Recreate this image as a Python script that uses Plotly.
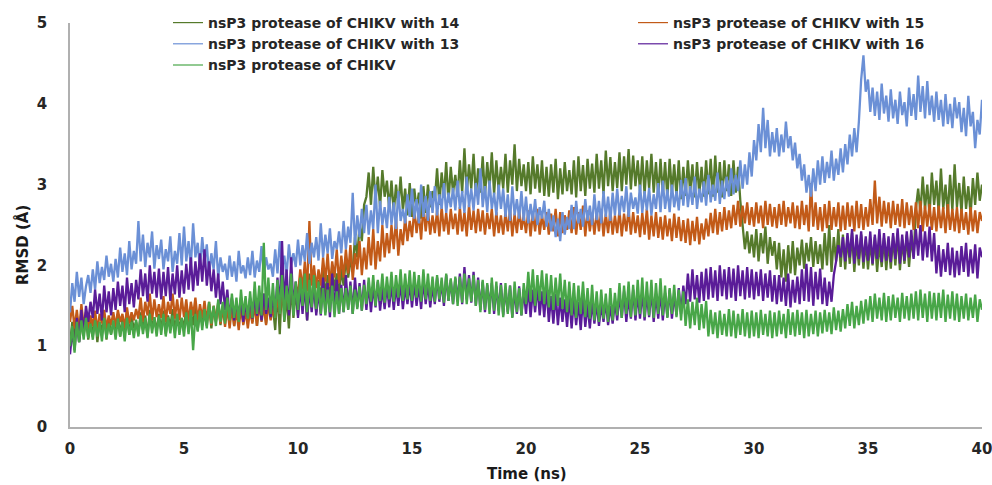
import numpy as np
import plotly.graph_objects as go

# time grid (ns), 0.1 ns sampling
time_ns = np.round(np.arange(401) * 0.1, 1)

names = [
    "nsP3 protease of CHIKV with 14",
    "nsP3 protease of CHIKV with 15",
    "nsP3 protease of CHIKV with 13",
    "nsP3 protease of CHIKV with 16",
    "nsP3 protease of CHIKV",
]

rmsd_13 = [
1.42,1.78,1.55,1.92,1.61,1.85,1.52,1.74,1.88,1.66,
1.95,1.70,2.05,1.78,1.98,1.82,2.12,1.86,2.02,1.80,
2.08,1.85,2.22,1.92,2.15,1.88,2.30,1.95,2.18,2.02,
2.55,2.05,2.38,1.98,2.28,2.10,2.42,1.96,2.25,2.08,
2.32,1.95,2.20,2.05,2.36,1.92,2.18,2.02,2.40,2.00,
2.48,2.05,2.30,1.98,2.52,2.10,2.28,1.96,2.35,2.04,
2.26,1.88,2.15,1.95,2.30,1.85,2.10,1.92,2.02,1.82,
2.12,1.86,2.05,1.80,2.18,1.90,2.00,1.84,2.10,1.88,
2.18,1.85,2.06,1.92,2.24,1.88,2.10,1.95,2.02,1.86,
2.20,1.90,2.30,1.95,2.12,1.88,2.26,2.00,2.15,1.98,
2.32,2.00,2.25,2.05,2.40,2.02,2.28,2.10,2.35,2.06,
2.52,2.10,2.38,2.15,2.46,2.08,2.30,2.20,2.42,2.15,
2.55,2.20,2.48,2.28,2.90,2.25,2.62,2.35,2.70,2.40,
2.75,2.38,2.68,2.45,3.00,2.40,2.80,2.50,2.72,2.46,
2.85,2.50,2.78,2.45,2.92,2.55,2.70,2.52,2.88,2.60,
2.95,2.58,2.82,2.52,3.00,2.60,2.86,2.55,2.92,2.65,
2.98,2.62,2.88,2.70,3.02,2.65,2.90,2.72,2.96,2.68,
3.05,2.70,2.92,2.65,3.10,2.72,2.95,2.68,3.02,2.75,
3.20,2.72,2.98,2.66,3.05,2.70,2.90,2.62,3.00,2.70,
2.95,2.60,2.88,2.55,2.98,2.62,2.82,2.58,2.92,2.55,
2.85,2.52,2.76,2.55,2.82,2.50,2.72,2.58,2.80,2.48,
2.70,2.42,2.62,2.35,2.58,2.30,2.66,2.38,2.60,2.45,
2.75,2.45,2.80,2.52,2.70,2.48,2.82,2.55,2.74,2.50,
2.88,2.56,2.80,2.52,2.92,2.60,2.85,2.55,2.90,2.62,
2.95,2.62,2.86,2.66,2.98,2.60,2.90,2.70,2.84,2.64,
3.00,2.65,2.92,2.68,2.96,2.62,2.88,2.70,3.02,2.66,
3.05,2.70,2.94,2.66,3.00,2.72,2.92,2.68,3.06,2.74,
3.08,2.72,2.98,2.75,3.10,2.70,2.95,2.78,3.04,2.74,
3.12,2.78,3.00,2.80,3.15,2.76,3.05,2.82,3.10,2.85,
3.20,2.88,3.12,2.92,3.30,2.95,3.25,3.00,3.40,3.10,
3.55,3.30,3.75,3.40,3.95,3.45,3.80,3.35,3.65,3.40,
3.70,3.35,3.62,3.40,3.78,3.45,3.60,3.30,3.52,3.20,
3.38,3.05,3.25,2.90,3.12,2.85,3.20,2.92,3.30,3.00,
3.35,3.02,3.28,3.08,3.42,3.05,3.32,3.12,3.45,3.15,
3.50,3.25,3.62,3.35,3.70,3.40,3.78,4.30,4.60,4.15,
4.30,3.90,4.20,3.85,4.15,3.80,4.25,3.88,4.10,3.78,
4.18,3.82,4.05,3.75,4.15,3.86,4.02,3.72,4.20,3.85,
4.12,3.80,4.35,3.90,4.22,3.82,4.28,3.86,4.10,3.78,
4.15,3.80,4.05,3.72,4.12,3.75,4.00,3.70,4.08,3.82,
4.02,3.65,3.95,3.60,4.10,3.72,3.90,3.45,3.80,3.62,
4.05]

rmsd_14 = [
1.02,1.30,1.10,1.38,1.05,1.28,1.15,1.35,1.08,1.32,
1.12,1.38,1.05,1.30,1.18,1.40,1.08,1.34,1.15,1.28,
1.18,1.40,1.12,1.35,1.20,1.42,1.14,1.36,1.22,1.30,
1.15,1.42,1.20,1.38,1.12,1.45,1.22,1.36,1.18,1.40,
1.20,1.44,1.15,1.38,1.24,1.46,1.18,1.40,1.22,1.35,
1.22,1.48,1.18,1.42,1.26,1.50,1.20,1.44,1.28,1.40,
1.25,1.52,1.22,1.48,1.30,1.55,1.26,1.50,1.32,1.46,
1.28,1.58,1.25,1.50,1.35,1.60,1.28,1.55,1.32,1.48,
1.30,1.62,1.25,1.55,1.36,1.65,1.28,1.58,1.34,1.50,
1.20,1.70,1.15,1.80,1.30,1.62,1.22,1.75,1.35,1.68,
1.38,1.85,1.45,1.78,1.32,1.90,1.50,1.75,1.42,1.82,
1.55,1.95,1.62,1.88,1.52,2.00,1.68,1.90,1.60,1.96,
1.75,2.10,1.85,2.05,1.95,2.35,2.10,2.50,2.30,2.75,
2.85,3.15,2.75,3.22,2.80,3.10,2.72,3.18,2.85,3.05,
2.70,3.05,2.65,3.00,2.72,3.10,2.68,2.95,2.62,3.02,
2.60,2.95,2.70,2.90,2.58,2.98,2.65,3.00,2.72,2.92,
2.80,3.20,2.75,3.15,2.85,3.28,2.78,3.22,2.90,3.12,
2.85,3.30,2.90,3.45,2.88,3.25,2.95,3.38,2.86,3.20,
2.90,3.35,2.86,3.28,2.95,3.40,2.88,3.30,2.92,3.22,
2.95,3.38,2.90,3.30,3.00,3.50,2.92,3.32,2.98,3.25,
2.92,3.28,2.88,3.35,2.95,3.25,2.90,3.30,2.86,3.22,
2.85,3.25,2.90,3.32,2.82,3.20,2.88,3.28,2.92,3.18,
2.88,3.30,2.84,3.35,2.92,3.24,2.86,3.32,2.95,3.26,
2.90,3.38,2.95,3.30,2.88,3.42,2.98,3.34,2.92,3.28,
2.96,3.40,2.92,3.35,3.00,3.44,2.94,3.36,2.98,3.30,
2.92,3.35,2.88,3.30,2.95,3.38,2.90,3.28,2.86,3.32,
2.88,3.28,2.84,3.32,2.90,3.25,2.86,3.30,2.82,3.22,
2.86,3.30,2.90,3.25,2.84,3.28,2.88,3.22,2.85,3.30,
2.88,3.32,2.85,3.36,2.90,3.28,2.84,3.30,2.92,3.25,
2.86,3.30,2.90,3.22,2.80,2.45,2.20,2.42,2.15,2.38,
2.10,2.45,2.05,2.40,2.15,2.48,2.02,2.35,2.12,2.30,
1.95,2.28,1.85,2.20,1.80,2.25,1.90,2.30,1.88,2.22,
2.00,2.32,1.96,2.28,2.05,2.35,1.98,2.30,2.02,2.26,
1.95,2.40,2.00,2.50,1.92,2.35,2.05,2.45,1.98,2.38,
1.95,2.35,2.02,2.40,1.92,2.30,2.00,2.38,1.96,2.32,
1.95,2.30,2.00,2.35,1.92,2.28,1.98,2.34,1.94,2.30,
1.96,2.36,2.00,2.40,1.94,2.32,2.02,2.38,1.98,2.34,
2.10,2.70,2.95,2.65,3.10,2.70,3.00,2.62,3.15,2.75,
3.05,2.65,3.20,2.70,3.00,2.62,3.12,2.68,3.25,2.72,
3.02,2.65,3.10,2.70,2.98,2.62,3.08,2.75,3.15,2.80,
3.00]

rmsd_15 = [
1.30,1.50,1.22,1.45,1.18,1.52,1.25,1.42,1.20,1.38,
1.25,1.44,1.20,1.40,1.28,1.45,1.22,1.38,1.26,1.42,
1.24,1.45,1.30,1.40,1.22,1.48,1.28,1.42,1.32,1.46,
1.34,1.60,1.30,1.55,1.38,1.65,1.32,1.58,1.36,1.52,
1.35,1.62,1.30,1.55,1.40,1.65,1.34,1.58,1.32,1.60,
1.36,1.58,1.30,1.55,1.38,1.60,1.32,1.52,1.35,1.56,
1.30,1.55,1.26,1.50,1.32,1.52,1.28,1.48,1.24,1.50,
1.22,1.48,1.25,1.45,1.20,1.50,1.26,1.44,1.22,1.46,
1.28,1.52,1.25,1.55,1.30,1.50,1.26,1.54,1.32,1.48,
1.35,1.62,1.40,1.75,1.45,1.70,1.50,1.80,1.55,1.75,
1.65,1.95,1.70,2.05,1.68,2.55,1.75,2.00,1.72,1.95,
1.75,2.10,1.80,2.15,1.74,2.05,1.85,2.20,1.78,2.12,
1.85,2.20,1.90,2.25,1.82,2.15,1.95,2.30,1.88,2.22,
1.95,2.35,2.00,2.45,1.95,2.30,2.05,2.50,2.10,2.40,
2.15,2.50,2.20,2.58,2.12,2.45,2.25,2.60,2.30,2.55,
2.35,2.70,2.40,2.65,2.32,2.75,2.42,2.68,2.38,2.62,
2.40,2.68,2.36,2.72,2.42,2.65,2.38,2.70,2.45,2.64,
2.38,2.72,2.42,2.66,2.36,2.75,2.44,2.68,2.40,2.70,
2.42,2.68,2.38,2.65,2.45,2.70,2.36,2.66,2.40,2.62,
2.38,2.66,2.42,2.70,2.36,2.64,2.40,2.68,2.44,2.62,
2.40,2.68,2.36,2.65,2.42,2.70,2.38,2.62,2.44,2.66,
2.38,2.64,2.42,2.70,2.36,2.66,2.40,2.62,2.44,2.68,
2.40,2.72,2.38,2.66,2.44,2.74,2.36,2.68,2.42,2.65,
2.38,2.66,2.42,2.70,2.36,2.64,2.40,2.68,2.38,2.62,
2.40,2.68,2.36,2.64,2.42,2.70,2.38,2.66,2.40,2.62,
2.35,2.65,2.38,2.70,2.32,2.62,2.36,2.66,2.34,2.60,
2.32,2.62,2.36,2.58,2.30,2.64,2.34,2.60,2.30,2.56,
2.28,2.58,2.25,2.55,2.30,2.60,2.26,2.52,2.32,2.58,
2.36,2.65,2.40,2.70,2.38,2.66,2.42,2.72,2.44,2.68,
2.46,2.75,2.50,2.80,2.48,2.74,2.52,2.78,2.50,2.72,
2.48,2.78,2.52,2.74,2.46,2.80,2.50,2.76,2.48,2.72,
2.46,2.76,2.50,2.80,2.48,2.72,2.52,2.78,2.46,2.74,
2.45,2.80,2.50,2.75,2.42,3.02,2.48,2.78,2.44,2.72,
2.42,2.76,2.46,2.80,2.44,2.72,2.48,2.78,2.42,2.74,
2.44,2.78,2.48,2.74,2.42,2.80,2.46,2.76,2.44,2.72,
2.48,2.82,2.50,3.05,2.52,2.85,2.48,2.80,2.52,2.78,
2.46,2.80,2.50,2.76,2.48,2.82,2.46,2.78,2.50,2.74,
2.44,2.78,2.46,2.80,2.42,2.74,2.48,2.76,2.44,2.72,
2.42,2.74,2.46,2.72,2.40,2.76,2.44,2.70,2.42,2.72,
2.40,2.70,2.44,2.66,2.38,2.72,2.42,2.68,2.40,2.66,
2.55]

rmsd_16 = [
0.90,1.20,0.95,1.35,1.05,1.45,1.15,1.50,1.30,1.55,
1.35,1.70,1.40,1.65,1.32,1.75,1.42,1.68,1.38,1.72,
1.45,1.80,1.50,1.75,1.42,1.85,1.52,1.78,1.48,1.82,
1.58,1.95,1.62,1.90,1.55,2.00,1.65,1.92,1.60,1.96,
1.58,1.92,1.62,1.98,1.56,1.90,1.64,2.00,1.60,1.94,
1.65,2.02,1.70,2.10,1.68,2.05,1.75,2.15,1.80,2.20,
1.75,2.05,1.68,1.95,1.60,1.90,1.52,1.80,1.45,1.70,
1.35,1.60,1.32,1.55,1.38,1.58,1.30,1.54,1.36,1.60,
1.34,1.62,1.38,1.58,1.32,1.65,1.40,1.60,1.36,1.64,
1.40,1.85,1.45,2.30,1.50,1.95,1.38,2.10,1.45,1.80,
1.35,1.75,1.40,1.80,1.32,1.72,1.42,1.78,1.38,1.70,
1.38,1.85,1.42,1.78,1.36,1.90,1.45,1.82,1.40,1.76,
1.42,1.88,1.46,1.80,1.40,1.85,1.48,1.78,1.44,1.82,
1.45,1.78,1.42,1.75,1.48,1.80,1.44,1.72,1.46,1.76,
1.48,1.78,1.45,1.75,1.50,1.80,1.46,1.74,1.52,1.78,
1.48,1.80,1.50,1.76,1.46,1.82,1.52,1.78,1.48,1.75,
1.52,1.85,1.55,1.80,1.50,1.88,1.56,1.82,1.52,1.84,
1.55,1.90,1.52,1.98,1.58,1.88,1.54,1.92,1.50,1.85,
1.45,1.80,1.42,1.76,1.48,1.78,1.40,1.74,1.44,1.78,
1.38,1.72,1.42,1.75,1.36,1.70,1.40,1.74,1.38,1.70,
1.40,1.74,1.36,1.70,1.42,1.75,1.38,1.68,1.36,1.72,
1.30,1.62,1.28,1.65,1.26,1.60,1.30,1.58,1.24,1.62,
1.22,1.58,1.26,1.55,1.20,1.60,1.24,1.52,1.22,1.56,
1.28,1.54,1.25,1.52,1.30,1.56,1.26,1.50,1.28,1.55,
1.32,1.65,1.35,1.68,1.30,1.62,1.34,1.70,1.32,1.66,
1.34,1.68,1.32,1.64,1.36,1.70,1.30,1.65,1.34,1.68,
1.32,1.66,1.36,1.70,1.34,1.64,1.38,1.72,1.40,1.75,
1.52,1.90,1.55,1.95,1.58,1.88,1.54,1.92,1.56,1.96,
1.58,1.98,1.60,1.94,1.56,2.00,1.62,1.95,1.58,1.98,
1.60,1.96,1.56,2.00,1.62,1.94,1.58,1.98,1.60,1.95,
1.58,1.92,1.62,1.95,1.56,1.90,1.60,1.94,1.55,1.88,
1.52,1.88,1.55,1.85,1.50,1.90,1.48,1.82,1.54,1.86,
1.52,1.95,1.56,2.02,1.55,1.98,1.50,1.92,1.58,1.96,
1.52,1.85,1.50,1.80,1.55,1.88,2.05,2.25,2.10,2.35,
2.05,2.40,2.10,2.45,2.02,2.38,2.08,2.42,2.04,2.36,
2.06,2.42,2.02,2.38,2.08,2.45,2.04,2.40,2.06,2.36,
2.04,2.40,2.08,2.46,2.02,2.38,2.06,2.42,2.10,2.44,
2.08,2.45,2.12,2.50,2.06,2.42,2.10,2.48,2.05,2.40,
1.90,2.25,1.86,2.20,1.92,2.28,1.88,2.22,1.85,2.18,
1.88,2.24,1.92,2.28,1.86,2.20,1.90,2.26,1.84,2.22,
2.10]

rmsd_ctrl = [
1.00,1.25,0.92,1.30,1.05,1.32,1.08,1.35,1.10,1.28,
1.08,1.32,1.12,1.30,1.06,1.35,1.10,1.28,1.14,1.32,
1.08,1.34,1.12,1.30,1.06,1.35,1.14,1.30,1.10,1.33,
1.12,1.38,1.15,1.35,1.10,1.40,1.16,1.36,1.12,1.38,
1.14,1.40,1.12,1.36,1.16,1.38,1.10,1.40,1.14,1.35,
1.12,1.42,1.15,1.45,0.95,1.40,1.18,1.44,1.20,1.46,
1.22,1.55,1.28,1.50,1.25,1.58,1.30,1.55,1.28,1.60,
1.32,1.65,1.35,1.60,1.30,1.70,1.38,1.62,1.34,1.68,
1.35,1.80,1.40,1.75,1.38,2.28,1.45,1.85,1.40,1.78,
1.35,1.82,1.40,1.88,1.32,1.75,1.45,1.90,1.38,1.80,
1.45,1.85,1.50,1.90,1.42,1.82,1.48,1.88,1.46,1.80,
1.40,1.72,1.38,1.70,1.42,1.75,1.36,1.68,1.40,1.72,
1.42,1.72,1.45,1.75,1.40,1.70,1.46,1.74,1.44,1.76,
1.52,1.85,1.55,1.88,1.50,1.82,1.56,1.90,1.54,1.86,
1.58,1.92,1.55,1.88,1.60,1.95,1.56,1.90,1.58,1.94,
1.56,1.92,1.60,1.88,1.55,1.95,1.58,1.90,1.56,1.86,
1.55,1.88,1.58,1.85,1.54,1.90,1.56,1.84,1.52,1.86,
1.50,1.86,1.54,1.90,1.52,1.84,1.55,1.88,1.50,1.82,
1.42,1.82,1.45,1.78,1.40,1.85,1.44,1.80,1.38,1.76,
1.36,1.78,1.40,1.75,1.35,1.80,1.42,1.72,1.38,1.78,
1.52,1.92,1.55,1.95,1.50,1.88,1.56,1.94,1.52,1.90,
1.48,1.88,1.45,1.85,1.50,1.90,1.46,1.82,1.42,1.80,
1.38,1.78,1.35,1.75,1.40,1.80,1.36,1.72,1.34,1.76,
1.32,1.68,1.30,1.70,1.34,1.65,1.30,1.72,1.32,1.66,
1.38,1.78,1.35,1.75,1.40,1.80,1.36,1.76,1.38,1.82,
1.40,1.85,1.36,1.80,1.38,1.82,1.35,1.78,1.40,1.84,
1.38,1.75,1.35,1.72,1.40,1.76,1.36,1.70,1.32,1.68,
1.25,1.58,1.22,1.55,1.26,1.60,1.20,1.52,1.22,1.56,
1.12,1.45,1.15,1.42,1.10,1.44,1.14,1.40,1.12,1.46,
1.12,1.44,1.10,1.40,1.14,1.46,1.12,1.42,1.10,1.44,
1.12,1.42,1.10,1.45,1.14,1.40,1.12,1.44,1.10,1.42,
1.12,1.44,1.15,1.40,1.10,1.46,1.14,1.42,1.12,1.45,
1.14,1.42,1.10,1.45,1.12,1.40,1.15,1.44,1.12,1.42,
1.16,1.45,1.18,1.42,1.15,1.48,1.20,1.44,1.18,1.46,
1.22,1.52,1.25,1.55,1.22,1.50,1.26,1.56,1.28,1.58,
1.32,1.62,1.30,1.65,1.34,1.60,1.32,1.66,1.30,1.62,
1.32,1.64,1.35,1.60,1.30,1.66,1.34,1.62,1.32,1.65,
1.34,1.68,1.32,1.70,1.35,1.65,1.30,1.68,1.34,1.66,
1.32,1.66,1.35,1.70,1.30,1.64,1.34,1.68,1.32,1.65,
1.30,1.62,1.34,1.65,1.32,1.60,1.35,1.64,1.30,1.58,
1.45]

x_ticks = [0, 5, 10, 15, 20, 25, 30, 35, 40]
y_ticks = [0, 1, 2, 3, 4, 5]

# drawing order (bottom to top): 14, 15, 13, 16, control
series = [
    (names[0], rmsd_14, "#557a2b", "legend"),
    (names[1], rmsd_15, "#c25a18", "legend2"),
    (names[2], rmsd_13, "#6b90d6", "legend"),
    (names[3], rmsd_16, "#5a1c98", "legend2"),
    (names[4], rmsd_ctrl, "#48a648", "legend"),
]

fig = go.Figure()
for nm, vals, col, lg in series:
    fig.add_trace(go.Scatter(
        x=time_ns, y=vals, mode="lines", name=nm,
        line=dict(color=col, width=2.3), legend=lg, showlegend=False,
    ))
# thin legend keys (legend-only entries, no data drawn)
for nm, vals, col, lg in series:
    fig.add_trace(go.Scatter(
        x=[None], y=[None], mode="lines", name=nm,
        line=dict(color=col, width=1.2), legend=lg, showlegend=True,
    ))

legend_font = dict(family="DejaVu Sans", size=14, color="#262626", weight="bold")
title_font = dict(family="DejaVu Sans", size=15, color="#1a1a1a", weight="bold")

fig.update_layout(
    width=992, height=485,
    margin=dict(l=70, r=10, t=23, b=58, autoexpand=False),
    paper_bgcolor="white", plot_bgcolor="white",
    font=dict(family="DejaVu Sans", size=15, color="#262626", weight="bold"),
    showlegend=True,
    legend=dict(
        xref="container", yref="container",
        x=168 / 992, y=1 - 7 / 485, xanchor="left", yanchor="top",
        bgcolor="rgba(0,0,0,0)", font=legend_font,
        tracegroupgap=0, itemclick=False, itemdoubleclick=False,
    ),
    legend2=dict(
        xref="container", yref="container",
        x=633 / 992, y=1 - 7 / 485, xanchor="left", yanchor="top",
        bgcolor="rgba(0,0,0,0)", font=legend_font,
        tracegroupgap=0, itemclick=False, itemdoubleclick=False,
    ),
    xaxis=dict(
        range=[0, 40], tickvals=x_ticks, ticktext=[str(v) for v in x_ticks],
        showgrid=False, zeroline=False, showline=True, linecolor="#b0b0b0", linewidth=1.5,
        ticks="", ticklabelstandoff=7, automargin=False, ticklabeloverflow="allow",
    ),
    yaxis=dict(
        range=[0, 5], tickvals=y_ticks, ticktext=[str(v) for v in y_ticks],
        showgrid=False, zeroline=False, showline=True, linecolor="#b0b0b0", linewidth=1.5,
        ticks="", ticklabelstandoff=18, automargin=False,
    ),
    annotations=[
        dict(text="Time (ns)", xref="paper", yref="paper", x=(527 - 70) / 912, y=(427 - 474) / 404,
             xanchor="center", yanchor="middle", showarrow=False, font=title_font),
        dict(text="RMSD (Å)", xref="paper", yref="paper", x=(22 - 70) / 912, y=(427 - 245) / 404,
             xanchor="center", yanchor="middle", showarrow=False, textangle=-90, font=title_font),
    ],
)

fig.write_html("out.html")
